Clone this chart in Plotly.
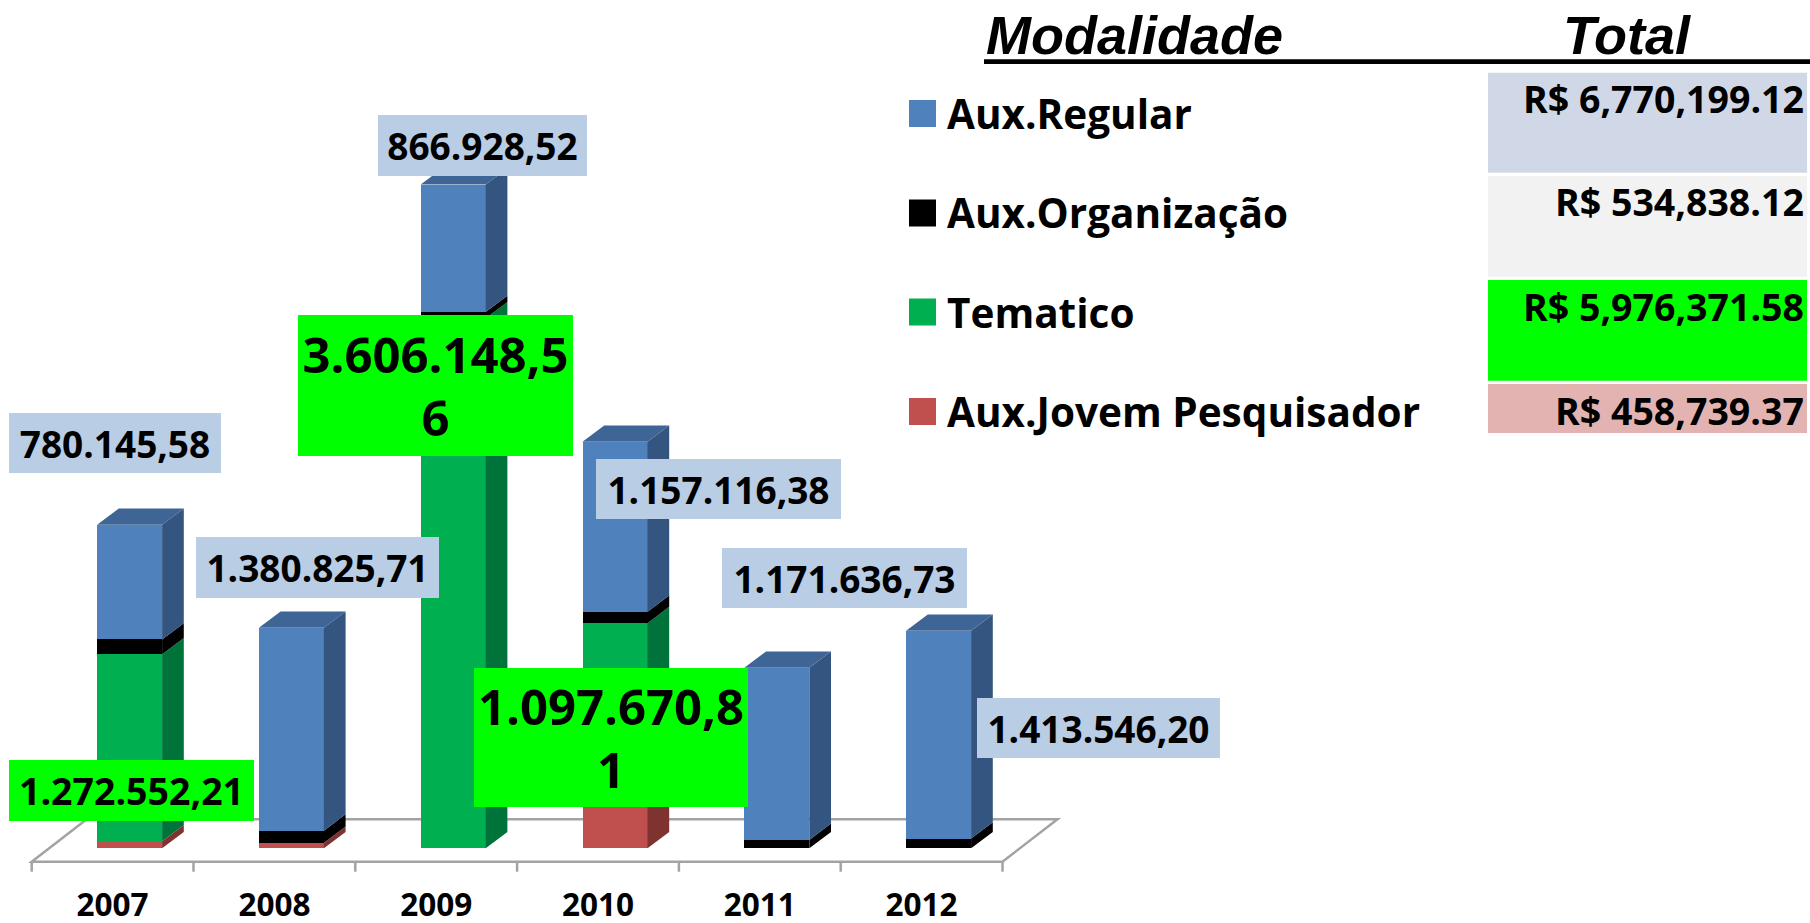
import plotly.graph_objects as go

# ---------------- data ----------------
years = ["2007", "2008", "2009", "2010", "2011", "2012"]
series_names = ["Aux.Regular", "Aux.Organização", "Tematico", "Aux.Jovem Pesquisador"]
aux_regular = [780145.58, 1380825.71, 866928.52, 1157116.38, 1171636.73, 1413546.20]
aux_organizacao = [100000, 82000, 42000, 77000, 57000, 66000]
tematico = [1272552.21, 0, 3606148.56, 1097670.81, 0, 0]
aux_jovem = [48000, 38000, 0, 434000, 0, 0]
table_totals = [6770199.12, 534838.12, 5976371.58, 458739.37]

# ---------------- styling / layout constants ----------------
W_PX, H_PX = 1810, 923
PLOT_BOTTOM = 883.0          # px, bottom of plot area
CAT_PX = 161.8               # px per category
X0_PX = 31.7                 # px of left edge of first category
PX_PER_UNIT = 147.0 / 1e6    # px per R$
BASE_PX = 848.3              # px of value 0 (front face)
BAR_OFFSET = 17.0 / CAT_PX
BAR_WIDTH = 65.0 / CAT_PX
DEPTH_DX = 21.7 / CAT_PX
DEPTH_DY = 16.3 / PX_PER_UNIT
FLOOR_FRONT = (BASE_PX - 861.7) / PX_PER_UNIT
FLOOR_DX = 55.0 / CAT_PX
FLOOR_DY = 42.5 / PX_PER_UNIT
TICK_LEN = 10.0 / PX_PER_UNIT

FONT = "Open Sans, Lato, sans-serif"
front_colors = ["#4F81BD", "#000000", "#00B050", "#C0504D"]
side_colors = ["#34557F", "#000000", "#00733A", "#7E3331"]
top_colors = ["#3E6595", "#000000", "#008A40", "#9A3E3B"]
legend_colors = front_colors
table_bg = ["#D0D8E8", "#F2F2F2", "#00FF00", "#E3B3B2"]
label_bg = {"reg": "#B9CDE5", "tem": "#00FF00"}

# stacked from bottom to top
stack_order = [3, 2, 1, 0]
series_values = [aux_regular, aux_organizacao, tematico, aux_jovem]

xr_min = (0 - X0_PX) / CAT_PX - 0.5
xr_max = (W_PX - X0_PX) / CAT_PX - 0.5
yr_max = BASE_PX / PX_PER_UNIT
yr_min = -(PLOT_BOTTOM - BASE_PX) / PX_PER_UNIT


def px_x(px):
    return px / W_PX


def px_y(py):
    return (PLOT_BOTTOM - py) / PLOT_BOTTOM


def br_fmt(v):
    s = f"{v:,.2f}"
    return s.replace(",", "X").replace(".", ",").replace("X", ".")


fig = go.Figure()
xs = list(range(len(years)))
xc = [i + BAR_OFFSET for i in xs]

# front faces: stacked bars
for si in stack_order:
    fig.add_trace(go.Bar(
        x=xc, y=series_values[si], width=BAR_WIDTH, name=series_names[si],
        marker=dict(color=front_colors[si], line=dict(width=0)),
        showlegend=False, hoverinfo="skip"))

# side and top faces
cum = [0.0] * len(years)
top_series = [None] * len(years)
sides = {si: ([], []) for si in stack_order}
for si in stack_order:
    vals = series_values[si]
    for i in xs:
        v = vals[i]
        if v <= 0:
            continue
        y0, y1 = cum[i], cum[i] + v
        xr = xc[i] + BAR_WIDTH / 2
        sx, sy = sides[si]
        sx += [xr, xr + DEPTH_DX, xr + DEPTH_DX, xr, xr, None]
        sy += [y0, y0 + DEPTH_DY, y1 + DEPTH_DY, y1, y0, None]
        cum[i] = y1
        top_series[i] = si

for si in stack_order:
    sx, sy = sides[si]
    if sx:
        fig.add_trace(go.Scatter(x=sx, y=sy, mode="lines", fill="toself",
                                 fillcolor=side_colors[si], line=dict(width=0),
                                 showlegend=False, hoverinfo="skip"))

for si in stack_order:
    tx, ty = [], []
    for i in xs:
        if top_series[i] != si:
            continue
        xl = xc[i] - BAR_WIDTH / 2
        xr = xc[i] + BAR_WIDTH / 2
        yt = cum[i]
        tx += [xl, xr, xr + DEPTH_DX, xl + DEPTH_DX, xl, None]
        ty += [yt, yt, yt + DEPTH_DY, yt + DEPTH_DY, yt, None]
    if tx:
        fig.add_trace(go.Scatter(x=tx, y=ty, mode="lines", fill="toself",
                                 fillcolor=top_colors[si], line=dict(width=0),
                                 showlegend=False, hoverinfo="skip"))

# floor (axis decoration) drawn below the bars
n = len(years)
fl, fr = -0.5, n - 0.5
shapes = []
floor_path = (f"M {fl},{FLOOR_FRONT} L {fr},{FLOOR_FRONT} "
              f"L {fr + FLOOR_DX},{FLOOR_FRONT + FLOOR_DY} "
              f"L {fl + FLOOR_DX},{FLOOR_FRONT + FLOOR_DY} Z")
shapes.append(dict(type="path", path=floor_path, xref="x", yref="y", layer="below",
                   line=dict(color="#A3A3A3", width=2.5)))
for k in range(n + 1):
    xk = -0.5 + k
    shapes.append(dict(type="line", xref="x", yref="y", layer="below",
                       x0=xk, x1=xk, y0=FLOOR_FRONT, y1=FLOOR_FRONT - TICK_LEN,
                       line=dict(color="#A3A3A3", width=2.5)))

annotations = []

# data labels (positions are layout choices, values come from the data arrays)
label_layout = [
    ("reg", 0, 115.0, 443.3, 212, 60, 37, False),
    ("reg", 1, 317.5, 567.2, 243, 61, 37, False),
    ("reg", 2, 482.0, 145.4, 209, 61, 37, False),
    ("reg", 3, 718.5, 489.3, 245, 60, 37, False),
    ("reg", 4, 844.3, 577.5, 245, 60, 37, False),
    ("reg", 5, 1098.7, 728.3, 243, 60, 37, False),
    ("tem", 0, 131.5, 790.3, 245, 61, 37.5, False),
    ("tem", 2, 435.7, 385.3, 275, 141, 49, True),
    ("tem", 3, 610.5, 737.2, 274, 139, 49, True),
]
src = {"reg": aux_regular, "tem": tematico}
for key, i, cx, cy, w, h, fs, wrap in label_layout:
    t = br_fmt(src[key][i])
    if wrap:
        t = t[:-1] + "<br>" + t[-1:]
    annotations.append(dict(
        x=px_x(cx), y=px_y(cy), xref="paper", yref="paper", text=t,
        showarrow=False, xanchor="center", yanchor="middle",
        width=w, height=h, bgcolor=label_bg[key], borderpad=0, borderwidth=0,
        align="center", valign="middle",
        font=dict(family=FONT, size=fs, color="#000000", weight="bold")))

# header of the side table
for txt, cx in [("Modalidade", 1134), ("Total", 1627)]:
    annotations.append(dict(x=px_x(cx), y=px_y(35), xref="paper", yref="paper",
                            text=txt, showarrow=False, xanchor="center", yanchor="middle",
                            font=dict(family="Liberation Sans", size=54, color="#000000",
                                      weight="bold", style="italic")))
shapes.append(dict(type="line", xref="paper", yref="paper",
                   x0=px_x(984), x1=px_x(1812), y0=px_y(61.7), y1=px_y(61.7),
                   line=dict(color="#000000", width=4.7)))

# legend rows + totals table
row_centers = [113.5, 213.0, 312.0, 411.5]
row_cells = [(72.7, 172.7), (176, 276.7), (280, 380.7), (384, 433)]
row_text_y = [98.5, 202, 306, 410]
for r, si in enumerate([0, 1, 2, 3]):
    cy = row_centers[r]
    shapes.append(dict(type="rect", xref="paper", yref="paper",
                       x0=px_x(909), x1=px_x(936), y0=px_y(cy - 13.5), y1=px_y(cy + 13.5),
                       fillcolor=legend_colors[si], line=dict(width=0)))
    annotations.append(dict(x=px_x(946), y=px_y(cy), xref="paper", yref="paper",
                            text=series_names[si], showarrow=False,
                            xanchor="left", yanchor="middle", borderpad=0,
                            font=dict(family=FONT, size=40.5, color="#000000", weight="bold")))
    c0, c1 = row_cells[r]
    shapes.append(dict(type="rect", xref="paper", yref="paper",
                       x0=px_x(1488), x1=px_x(1807), y0=px_y(c1), y1=px_y(c0),
                       fillcolor=table_bg[r], line=dict(width=0), layer="below"))
    annotations.append(dict(x=px_x(1805), y=px_y(row_text_y[r]), xref="paper", yref="paper",
                            text=f"R$ {table_totals[r]:,.2f}", showarrow=False,
                            xanchor="right", yanchor="middle", borderpad=0,
                            font=dict(family=FONT, size=37.5, color="#000000", weight="bold")))

fig.update_layout(
    width=W_PX, height=H_PX,
    margin=dict(l=0, r=0, t=0, b=H_PX - PLOT_BOTTOM, pad=0, autoexpand=False),
    paper_bgcolor="#FFFFFF", plot_bgcolor="rgba(0,0,0,0)",
    barmode="stack", bargap=0,
    showlegend=False,
    shapes=shapes, annotations=annotations,
    xaxis=dict(range=[xr_min, xr_max], tickvals=xs, ticktext=years,
               showgrid=False, zeroline=False, showline=False, ticks="",
               automargin=False,
               tickfont=dict(family=FONT, size=31.5, color="#000000", weight="bold"),
               fixedrange=True),
    yaxis=dict(range=[yr_min, yr_max], visible=False, fixedrange=True, automargin=False),
)

fig.write_html("out.html", config={"displayModeBar": False},
               post_script="document.body.style.margin='0';document.body.style.overflow='hidden';")
